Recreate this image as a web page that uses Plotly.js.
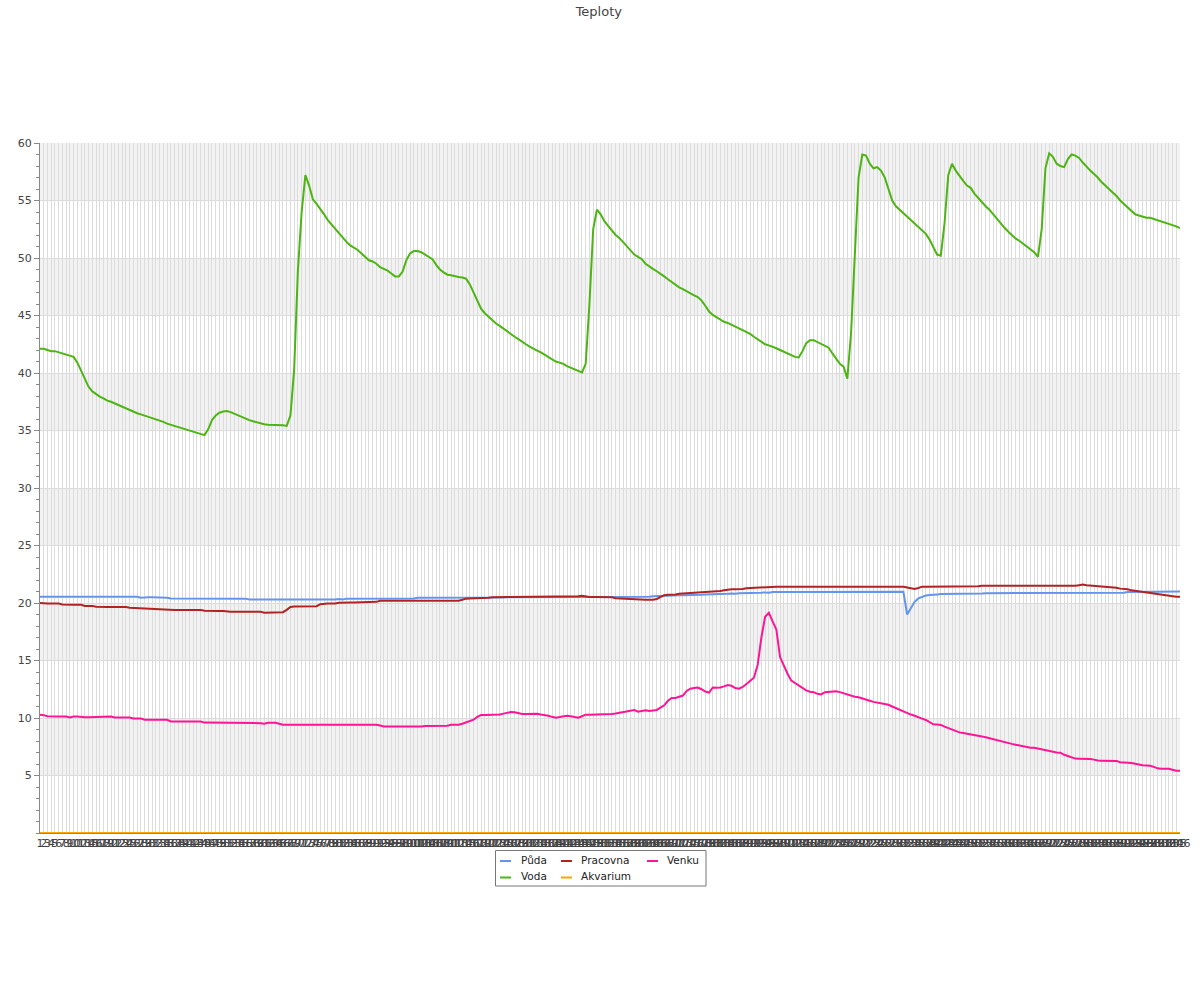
<!DOCTYPE html>
<html>
<head>
<meta charset="utf-8">
<script src="https://cdn.plot.ly/plotly-3.0.1.min.js"></script>
<style>html,body{margin:0;padding:0;background:#fff;}#chart{width:1200px;height:1000px;}</style>
</head>
<body>
<div id="chart"></div>
<script>
// Category labels (sample numbers)
const categories = [
1,2,3,4,5,6,7,8,9,10,11,12,13,14,15,16,17,18,19,20,
21,22,23,24,25,26,27,28,29,30,31,32,33,34,35,36,37,38,39,40,
41,42,43,44,45,46,47,48,49,50,51,52,53,54,55,56,57,58,59,60,
61,62,63,64,65,66,67,68,69,70,71,72,73,74,75,76,77,78,79,80,
81,82,83,84,85,86,87,88,89,90,91,92,93,94,95,96,97,98,99,100,
101,102,103,104,105,106,107,108,109,110,111,112,113,114,115,116,117,118,119,120,
121,122,123,124,125,126,127,128,129,130,131,132,133,134,135,136,137,138,139,140,
141,142,143,144,145,146,147,148,149,150,151,152,153,154,155,156,157,158,159,160,
161,162,163,164,165,166,167,168,169,170,171,172,173,174,175,176,177,178,179,180,
181,182,183,184,185,186,187,188,189,190,191,192,193,194,195,196,197,198,199,200,
201,202,203,204,205,206,207,208,209,210,211,212,213,214,215,216,217,218,219,220,
221,222,223,224,225,226,227,228,229,230,231,232,233,234,235,236,237,238,239,240,
241,242,243,244,245,246,247,248,249,250,251,252,253,254,255,256,257,258,259,260,
261,262,263,264,265,266,267,268,269,270,271,272,273,274,275,276,277,278,279,280,
281,282,283,284,285,286,287,288,289,290,291,292,293,294,295,296,297,298,299,300,
301,302,303,304,305,306
];

const puda = [
20.55,20.55,20.55,20.55,20.55,20.55,20.55,20.55,20.55,20.55,
20.55,20.55,20.55,20.55,20.55,20.55,20.55,20.55,20.55,20.55,
20.55,20.55,20.55,20.55,20.55,20.55,20.55,20.45,20.5,20.5,
20.5,20.5,20.48,20.5,20.45,20.4,20.4,20.4,20.4,20.4,
20.4,20.4,20.4,20.4,20.35,20.4,20.38,20.38,20.38,20.38,
20.38,20.38,20.38,20.38,20.38,20.38,20.3,20.3,20.3,20.3,
20.32,20.3,20.3,20.28,20.28,20.28,20.28,20.28,20.28,20.28,
20.28,20.28,20.28,20.28,20.28,20.28,20.28,20.28,20.28,20.3,
20.35,20.3,20.38,20.38,20.38,20.38,20.38,20.38,20.38,20.38,
20.38,20.38,20.4,20.4,20.4,20.4,20.4,20.4,20.4,20.4,
20.4,20.45,20.45,20.45,20.42,20.45,20.45,20.45,20.45,20.45,
20.45,20.45,20.45,20.48,20.48,20.48,20.48,20.48,20.48,20.48,
20.48,20.48,20.48,20.48,20.48,20.5,20.5,20.5,20.5,20.5,
20.5,20.5,20.5,20.5,20.5,20.5,20.5,20.5,20.5,20.5,
20.5,20.5,20.5,20.5,20.52,20.52,20.52,20.52,20.52,20.52,
20.52,20.52,20.52,20.52,20.52,20.52,20.52,20.52,20.52,20.52,
20.52,20.52,20.52,20.55,20.58,20.6,20.62,20.65,20.65,20.65,
20.65,20.68,20.68,20.68,20.7,20.7,20.72,20.72,20.75,20.75,
20.78,20.75,20.78,20.8,20.8,20.82,20.8,20.85,20.85,20.85,
20.88,20.88,20.88,20.9,20.92,20.9,20.95,20.92,20.95,20.95,
20.95,20.98,20.98,21.0,21.0,21.0,21.0,21.0,21.0,21.0,
21.0,21.0,21.0,20.98,21.0,20.98,21.0,21.0,21.0,21.0,
21.0,21.0,21.0,21.0,21.0,21.0,21.0,21.0,20.98,20.98,
20.98,20.98,19.0,19.5,20.1,20.4,20.55,20.65,20.7,20.75,
20.75,20.78,20.78,20.8,20.8,20.8,20.8,20.8,20.8,20.82,
20.82,20.82,20.82,20.85,20.85,20.85,20.85,20.88,20.85,20.85,
20.88,20.85,20.88,20.88,20.85,20.88,20.88,20.88,20.88,20.88,
20.88,20.88,20.88,20.88,20.88,20.85,20.9,20.9,20.9,20.9,
20.9,20.9,20.9,20.9,20.9,20.9,20.9,20.9,20.9,20.9,
20.9,20.95,20.95,20.98,20.98,21.0,21.0,21.0,21.0,21.0,
21.0,21.0,21.0,21.0,21.0,21.0
];

const voda = [
42.1,42.1,42.0,41.9,41.9,41.8,41.7,41.6,41.5,41.4,
40.9,40.2,39.5,38.8,38.4,38.15,37.95,37.8,37.6,37.5,
37.35,37.2,37.05,36.9,36.75,36.6,36.5,36.4,36.3,36.15,
36.05,35.95,35.85,35.75,35.6,35.5,35.4,35.3,35.2,35.1,
35.0,34.9,34.85,34.7,34.6,35.1,35.9,36.3,36.55,36.65,
36.7,36.6,36.45,36.3,36.15,36.0,35.9,35.8,35.7,35.6,
35.55,35.5,35.5,35.5,35.5,35.45,35.4,36.3,40.3,48.9,
54.0,57.2,56.3,55.1,54.7,54.3,53.8,53.3,52.9,52.6,
52.2,51.8,51.4,51.1,50.9,50.7,50.4,50.1,49.8,49.7,
49.5,49.2,49.05,48.9,48.65,48.4,48.4,48.8,49.8,50.4,
50.6,50.6,50.5,50.3,50.1,49.9,49.4,49.0,48.75,48.55,
48.5,48.4,48.35,48.3,48.2,47.7,47.0,46.3,45.6,45.2,
44.9,44.55,44.3,44.1,43.85,43.6,43.4,43.15,42.95,42.7,
42.5,42.3,42.1,41.95,41.8,41.6,41.4,41.2,41.0,40.9,
40.8,40.6,40.45,40.3,40.15,40.05,40.8,46.0,52.5,54.2,
53.8,53.2,52.8,52.4,52.0,51.75,51.4,51.0,50.7,50.3,
50.1,49.9,49.5,49.25,49.05,48.85,48.65,48.4,48.15,47.9,
47.7,47.45,47.3,47.1,46.9,46.75,46.6,46.3,45.85,45.35,
45.05,44.85,44.6,44.45,44.35,44.2,44.05,43.9,43.7,43.55,
43.4,43.15,42.95,42.7,42.5,42.4,42.3,42.15,42.0,41.85,
41.7,41.5,41.4,41.35,41.9,42.6,42.85,42.85,42.7,42.5,
42.35,42.2,41.7,41.3,40.8,40.55,39.5,43.5,50.0,57.0,
59.0,58.9,58.2,57.8,57.9,57.6,57.0,56.0,55.0,54.5,
54.2,53.9,53.6,53.3,53.0,52.7,52.4,52.1,51.6,51.0,
50.3,50.2,53.0,57.2,58.2,57.6,57.1,56.7,56.3,56.1,
55.6,55.2,54.8,54.5,54.2,53.8,53.4,53.0,52.65,52.3,
52.0,51.7,51.5,51.25,51.0,50.75,50.5,50.1,52.5,57.8,
59.1,58.8,58.2,58.0,57.9,58.6,59.0,58.9,58.7,58.3,
57.9,57.6,57.3,57.0,56.6,56.3,56.0,55.7,55.4,55.0,
54.7,54.4,54.1,53.8,53.7,53.6,53.5,53.5,53.4,53.25,
53.2,53.05,52.95,52.85,52.75,52.6
];

const pracovna = [
20.0,19.95,19.95,19.95,19.95,19.95,19.88,19.85,19.85,19.85,
19.85,19.85,19.75,19.75,19.75,19.68,19.65,19.65,19.65,19.65,
19.65,19.65,19.65,19.65,19.58,19.56,19.56,19.56,19.5,19.48,
19.48,19.48,19.42,19.4,19.4,19.4,19.4,19.4,19.4,19.4,
19.4,19.4,19.4,19.4,19.32,19.3,19.3,19.3,19.3,19.3,
19.25,19.25,19.25,19.25,19.25,19.25,19.25,19.25,19.25,19.25,
19.15,19.15,19.15,19.15,19.15,19.2,19.4,19.65,19.7,19.7,
19.7,19.7,19.7,19.7,19.72,19.9,19.95,19.95,19.95,19.95,
20.02,20.05,20.05,20.05,20.05,20.05,20.05,20.05,20.05,20.05,
20.1,20.2,20.2,20.2,20.2,20.2,20.2,20.25,20.25,20.25,
20.25,20.2,20.22,20.2,20.2,20.2,20.2,20.2,20.2,20.2,
20.2,20.2,20.2,20.28,20.38,20.4,20.4,20.4,20.4,20.4,
20.45,20.5,20.52,20.52,20.52,20.52,20.52,20.52,20.52,20.52,
20.52,20.52,20.52,20.52,20.52,20.52,20.52,20.52,20.52,20.52,
20.52,20.52,20.52,20.52,20.58,20.62,20.55,20.52,20.52,20.52,
20.52,20.52,20.52,20.5,20.42,20.4,20.38,20.36,20.3,20.28,
20.28,20.28,20.28,20.28,20.28,20.35,20.55,20.68,20.72,20.72,
20.75,20.8,20.82,20.85,20.88,20.92,20.95,20.95,20.95,20.95,
20.98,21.02,21.05,21.1,21.18,21.2,21.2,21.2,21.22,21.28,
21.3,21.32,21.35,21.4,21.42,21.42,21.42,21.42,21.42,21.42,
21.42,21.42,21.42,21.42,21.42,21.42,21.42,21.42,21.42,21.42,
21.42,21.42,21.42,21.42,21.42,21.42,21.42,21.42,21.38,21.42,
21.42,21.42,21.42,21.42,21.42,21.42,21.42,21.42,21.42,21.42,
21.42,21.42,21.35,21.28,21.22,21.3,21.42,21.42,21.42,21.42,
21.42,21.42,21.42,21.42,21.42,21.42,21.42,21.42,21.42,21.42,
21.42,21.45,21.5,21.5,21.5,21.5,21.5,21.5,21.5,21.5,
21.5,21.5,21.5,21.5,21.5,21.5,21.5,21.5,21.5,21.5,
21.5,21.5,21.48,21.45,21.5,21.5,21.5,21.5,21.55,21.6,
21.55,21.52,21.5,21.5,21.48,21.4,21.38,21.35,21.32,21.25,
21.22,21.2,21.1,21.05,21.0,20.98,20.9,20.85,20.82,20.75,
20.72,20.7,20.65,20.6,20.55,20.55
];

const akvarium = [
0,0,0,0,0,0,0,0,0,0,0,0,0,0,0,0,0,0,0,0,0,0,0,0,0,0,0,0,0,0,
0,0,0,0,0,0,0,0,0,0,0,0,0,0,0,0,0,0,0,0,0,0,0,0,0,0,0,0,0,0,
0,0,0,0,0,0,0,0,0,0,0,0,0,0,0,0,0,0,0,0,0,0,0,0,0,0,0,0,0,0,
0,0,0,0,0,0,0,0,0,0,0,0,0,0,0,0,0,0,0,0,0,0,0,0,0,0,0,0,0,0,
0,0,0,0,0,0,0,0,0,0,0,0,0,0,0,0,0,0,0,0,0,0,0,0,0,0,0,0,0,0,
0,0,0,0,0,0,0,0,0,0,0,0,0,0,0,0,0,0,0,0,0,0,0,0,0,0,0,0,0,0,
0,0,0,0,0,0,0,0,0,0,0,0,0,0,0,0,0,0,0,0,0,0,0,0,0,0,0,0,0,0,
0,0,0,0,0,0,0,0,0,0,0,0,0,0,0,0,0,0,0,0,0,0,0,0,0,0,0,0,0,0,
0,0,0,0,0,0,0,0,0,0,0,0,0,0,0,0,0,0,0,0,0,0,0,0,0,0,0,0,0,0,
0,0,0,0,0,0,0,0,0,0,0,0,0,0,0,0,0,0,0,0,0,0,0,0,0,0,0,0,0,0,
0,0,0,0,0,0
];

const venku = [
10.28,10.25,10.15,10.12,10.12,10.12,10.12,10.12,10.05,10.12,
10.12,10.07,10.07,10.07,10.07,10.07,10.07,10.12,10.1,10.12,
10.05,10.05,10.05,10.05,10.05,9.95,9.95,9.95,9.85,9.85,
9.85,9.85,9.85,9.85,9.85,9.7,9.7,9.7,9.7,9.7,
9.7,9.7,9.7,9.7,9.6,9.6,9.6,9.6,9.6,9.6,
9.6,9.6,9.6,9.6,9.6,9.6,9.6,9.6,9.6,9.55,
9.5,9.58,9.58,9.58,9.5,9.42,9.42,9.42,9.42,9.42,
9.42,9.42,9.42,9.42,9.42,9.42,9.42,9.42,9.4,9.38,
9.42,9.36,9.42,9.42,9.42,9.42,9.42,9.42,9.42,9.42,
9.42,9.35,9.27,9.27,9.27,9.27,9.27,9.22,9.27,9.27,
9.27,9.27,9.27,9.3,9.3,9.3,9.32,9.32,9.32,9.32,
9.42,9.42,9.42,9.5,9.6,9.7,9.85,10.1,10.26,10.26,
10.26,10.26,10.26,10.3,10.38,10.45,10.52,10.5,10.42,10.35,
10.35,10.35,10.33,10.37,10.3,10.26,10.2,10.1,10.03,10.08,
10.15,10.2,10.15,10.08,10.03,10.15,10.29,10.29,10.29,10.31,
10.31,10.31,10.31,10.35,10.4,10.45,10.5,10.55,10.62,10.7,
10.55,10.6,10.67,10.62,10.65,10.7,10.9,11.1,11.5,11.75,
11.75,11.88,11.95,12.35,12.55,12.6,12.65,12.5,12.3,12.2,
12.65,12.62,12.65,12.75,12.87,12.8,12.6,12.55,12.7,12.95,
13.2,13.5,14.6,17.0,18.8,19.15,18.4,17.7,15.3,14.5,
13.85,13.25,13.05,12.8,12.6,12.4,12.28,12.25,12.1,12.05,
12.25,12.28,12.28,12.32,12.25,12.15,12.0,11.9,11.85,11.8,
11.72,11.6,11.5,11.4,11.33,11.3,11.25,11.15,11.0,10.85,
10.75,10.6,10.4,10.3,10.2,10.05,9.95,9.83,9.65,9.45,
9.43,9.4,9.25,9.12,9.0,8.88,8.75,8.7,8.65,8.6,
8.52,8.45,8.4,8.32,8.23,8.15,8.08,8.0,7.9,7.82,
7.75,7.68,7.6,7.53,7.46,7.42,7.42,7.35,7.25,7.15,
7.1,7.05,7.0,6.98,6.8,6.7,6.58,6.47,6.46,6.46,
6.46,6.44,6.38,6.3,6.29,6.29,6.29,6.29,6.27,6.15,
6.1,6.1,6.08,6.0,5.95,5.9,5.88,5.85,5.75,5.62,
5.59,5.59,5.58,5.5,5.42,5.42
];

const seriesNames = ['Půda', 'Voda', 'Pracovna', 'Akvarium', 'Venku'];
const seriesColors = ['#6495ED', '#4CB512', '#B22222', '#FFA500', '#FF1493'];
const seriesValues = [puda, voda, pracovna, akvarium, venku];
const yTickVals = [5, 10, 15, 20, 25, 30, 35, 40, 45, 50, 55, 60];
const bandStarts = [5, 15, 25, 35, 45, 55];

const FONT = 'DejaVu Sans, sans-serif';

const traces = seriesNames.map((name, k) => ({
  type: 'scatter',
  mode: 'lines',
  name: name,
  x: categories,
  y: seriesValues[k],
  line: {color: seriesColors[k], width: 2},
  showlegend: false,
  hoverinfo: 'skip'
}));

// plot area geometry in px (for the hand-built legend)
const L = 40, R = 1180, T = 143, B = 833;
const px2x = p => (p - L) / (R - L);
const px2y = p => (B - p) / (B - T);

const shapes = bandStarts.map(s => ({
  type: 'rect', xref: 'paper', yref: 'y', x0: 0, x1: 1, y0: s, y1: s + 5,
  fillcolor: '#f2f2f2', line: {width: 0}, layer: 'below'
}));

// legend box
shapes.push({type: 'rect', xref: 'paper', yref: 'paper',
  x0: px2x(495.5), x1: px2x(706), y0: px2y(886), y1: px2y(850.5),
  fillcolor: '#ffffff', line: {color: '#777777', width: 1}, layer: 'above'});

const legendItems = [
  {k: 0, sx: 500, tx: 520, y: 861},
  {k: 2, sx: 561, tx: 580, y: 861},
  {k: 4, sx: 647, tx: 666, y: 861},
  {k: 1, sx: 500, tx: 520, y: 877.5},
  {k: 3, sx: 561, tx: 580, y: 877.5}
];
const annotations = [];
legendItems.forEach(it => {
  shapes.push({type: 'line', xref: 'paper', yref: 'paper',
    x0: px2x(it.sx), x1: px2x(it.sx + 11), y0: px2y(it.y), y1: px2y(it.y),
    line: {color: seriesColors[it.k], width: 2}, layer: 'above'});
  annotations.push({xref: 'paper', yref: 'paper', x: px2x(it.tx), y: px2y(it.y - 1.5),
    xanchor: 'left', yanchor: 'middle', showarrow: false, text: seriesNames[it.k],
    font: {family: FONT, size: 10.5, color: '#222222'}, borderpad: 0});
});

const layout = {
  width: 1200, height: 1000,
  paper_bgcolor: '#ffffff', plot_bgcolor: '#ffffff',
  margin: {l: L, r: 1200 - R, t: T, b: 1000 - B, pad: 0},
  font: {family: FONT, size: 11, color: '#444444'},
  title: {text: 'Teploty', x: 0.499, xref: 'container', xanchor: 'center', y: 0.989, yref: 'container', yanchor: 'middle',
    font: {family: FONT, size: 13, color: '#444444'}},
  showlegend: false,
  hovermode: false,
  xaxis: {
    type: 'category', range: [0, categories.length - 1],
    tickmode: 'array', tickvals: categories, ticktext: categories.map(String),
    tickangle: 0, ticks: '', showgrid: true, gridcolor: '#dcdcdc', gridwidth: 1,
    showline: true, linecolor: '#888888', linewidth: 1, zeroline: false,
    tickfont: {family: FONT, size: 11, color: '#444444'}, automargin: false
  },
  yaxis: {
    range: [0, 60], tickmode: 'array', tickvals: yTickVals,
    ticks: 'outside', ticklen: 5, tickcolor: '#888888', tickwidth: 1,
    minor: {tickmode: 'linear', tick0: 0, dtick: 1, ticks: 'outside', ticklen: 3, tickcolor: '#888888', showgrid: false},
    showgrid: true, gridcolor: '#dcdcdc', gridwidth: 1,
    showline: true, linecolor: '#888888', linewidth: 1, zeroline: false,
    tickfont: {family: FONT, size: 11, color: '#444444'}, automargin: false
  },
  shapes: shapes,
  annotations: annotations
};

Plotly.newPlot('chart', traces, layout, {displayModeBar: false, staticPlot: true});
</script>
</body>
</html>
